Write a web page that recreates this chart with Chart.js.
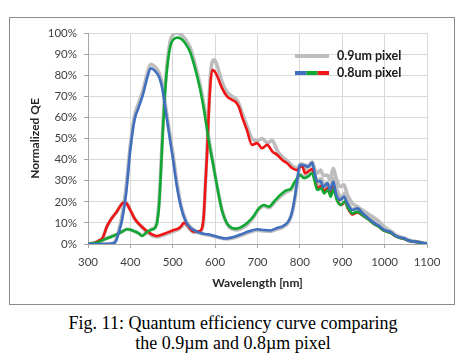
<!DOCTYPE html>
<html>
<head>
<meta charset="utf-8">
<script src="https://cdn.jsdelivr.net/npm/chart.js@4/dist/chart.umd.min.js"></script>
<style>
  html, body { margin: 0; padding: 0; background: #fff; width: 466px; height: 361px; overflow: hidden; }
  #frame { position: absolute; left: 9px; top: 17px; width: 444px; height: 286px; border: 1px solid #8c8c8c; background: #fff; }
  #c { position: absolute; left: 0; top: 0; }
  #cap { position: absolute; left: 0; top: 313px; width: 466px; text-align: center;
         font-family: "Liberation Serif", "Times New Roman", serif; font-size: 18px; line-height: 20px; color: #000; }
</style>
</head>
<body>
<div id="frame"><canvas id="c" width="444" height="286"></canvas></div>
<div id="cap">Fig. 11: Quantum efficiency curve comparing<br>the 0.9µm and 0.8µm pixel</div>
<script>
// ---- data ----
const xTicks = [300, 400, 500, 600, 700, 800, 900, 1000, 1100];
const yTicks = [0, 10, 20, 30, 40, 50, 60, 70, 80, 90, 100];
const seriesNames = ["0.9um pixel", "0.8um pixel"];

const blueWl = [300, 340, 360, 366, 372, 380, 390, 400, 410, 420, 430, 440, 448, 458, 468, 475, 482, 490, 500, 510, 520, 530, 540, 555, 570, 590, 610, 625, 645, 660, 680, 700, 715, 730, 745, 760, 772, 780, 788, 795, 800, 810, 819, 829, 835, 841, 849, 855, 865, 871, 879, 885, 895, 904, 912, 924, 936, 948, 963, 975, 985, 1000, 1015, 1025, 1035, 1046, 1055, 1065, 1078, 1090, 1100];
const blueQE08 = [0, 0, 0.3, 1.5, 5, 11, 24, 45, 59, 65, 71, 79, 83.3, 82, 79, 74, 65, 54, 41, 27, 17, 11, 8, 6, 5, 4.3, 3.2, 2.6, 3.4, 4.5, 6, 7, 6.6, 6.4, 7.5, 8.5, 10.5, 14, 22, 32, 37.5, 37.3, 36.6, 38.6, 33.5, 29.6, 29.8, 27, 28.8, 25.6, 29.6, 24, 20.9, 22.4, 19.3, 16.1, 16.9, 14.6, 12, 10, 8.8, 6.6, 5.6, 4, 3.2, 2.7, 1.8, 1.3, 1, 0.5, 0.2];
const blueQE09 = [0, 0, 0.4, 2, 6, 13, 27, 47, 61, 67, 73, 81, 85.2, 84, 81, 76, 67, 56, 43, 29, 18, 11.5, 8.3, 6, 4.8, 4, 3, 2.4, 3, 4, 5.5, 6.5, 6.2, 6, 7, 8, 10, 13.5, 21, 31, 37, 37.5, 37, 38.8, 35.5, 33.5, 35, 32.5, 32.7, 30.4, 35.9, 31.5, 27.2, 28, 23.5, 19.3, 17.7, 16, 14, 12.5, 11, 8, 6, 4.5, 3.5, 2.8, 2, 1.4, 1, 0.5, 0.2];

const greenWl = [300, 310, 325, 345, 365, 380, 392, 400, 410, 420, 428, 438, 450, 458, 463, 468, 472, 476, 480, 486, 494, 500, 506, 512, 518, 524, 530, 541, 553, 565, 575, 585, 595, 605, 616, 628, 640, 650, 660, 675, 690, 703, 715, 727, 739, 754, 770, 778, 786, 793, 800, 810, 819, 829, 835, 841, 851, 857, 866, 873, 879, 887, 896, 906, 914, 924, 936, 948, 963, 975, 985, 1000, 1015, 1025, 1035, 1046, 1055, 1065, 1078, 1090, 1100];
const greenQE08 = [0, 0.3, 1, 2.7, 4.3, 5.8, 7, 6.8, 6, 5, 3.8, 5.5, 6.8, 7.5, 10, 19, 34, 51, 66, 82, 93.5, 96.5, 97.6, 97.8, 97.5, 96.5, 95, 91, 83, 73, 62, 49, 38, 27, 16, 9.8, 7.6, 7.3, 7.9, 9.8, 13, 16.9, 18.5, 17.7, 20.1, 23.3, 25.6, 26, 28.8, 31, 32.7, 31.2, 31.9, 33.5, 29.6, 25.6, 26.4, 24, 25.6, 22.4, 25.9, 20.9, 18.5, 20.1, 16.9, 14.6, 15.3, 13.6, 11.5, 9.5, 8.3, 6.2, 5.2, 3.8, 3, 2.5, 1.7, 1.2, 0.9, 0.4, 0.2];
const greenQE09 = [0, 0.3, 1, 2.7, 4.3, 5.8, 7, 6.8, 6, 5, 4, 5.5, 7, 8, 11, 21, 36, 53, 68, 84, 96, 99, 100, 100.2, 99.5, 98.5, 97, 93, 85, 75, 64, 50, 38.5, 27, 16.5, 9.5, 7, 6.7, 7.2, 9, 12.5, 16.5, 18, 17.2, 19.5, 22.5, 25, 25.5, 28, 30.5, 33, 32, 33, 35, 32, 28, 29, 27, 28, 25, 29, 24, 21, 22.5, 19, 16.5, 16.5, 15, 13, 11, 9.5, 7, 5.5, 4, 3.2, 2.6, 1.8, 1.3, 0.9, 0.4, 0.2];

const redWl = [300, 315, 325, 335, 344, 356, 368, 378, 385, 392, 400, 411, 427, 447, 462, 482, 502, 514, 520, 526, 532, 540, 549, 561, 568, 573, 577, 581, 585, 589, 593, 598, 604, 610, 616, 628, 640, 650, 657, 664, 675, 687, 699, 711, 723, 735, 747, 758, 770, 782, 794, 800, 806, 812, 819, 829, 835, 841, 851, 857, 866, 873, 879, 889, 898, 906, 914, 924, 936, 948, 963, 975, 985, 1000, 1015, 1025, 1035, 1046, 1055, 1065, 1078, 1090, 1100];
const redQE08 = [0, 0.5, 1.5, 3, 8, 12.2, 15.3, 18.5, 19.8, 19, 16, 11.7, 8.2, 5, 3.8, 5, 6.6, 7.4, 8.5, 10.1, 9.5, 7.5, 5.8, 6, 7, 13, 28, 43, 62, 76, 82.5, 82, 80, 77, 74, 70, 68.3, 67, 64.5, 60, 54, 47, 47.8, 45.4, 47, 43.8, 42.2, 39.9, 38.3, 35.9, 35, 36.5, 36.7, 33.5, 34.3, 35.5, 31.2, 26.5, 27.5, 25, 26.5, 23.5, 27, 20.5, 18.5, 20, 16.5, 14, 15, 13.5, 11.5, 9.5, 8.3, 6.2, 5.2, 3.8, 3, 2.5, 1.7, 1.2, 0.9, 0.4, 0.2];
const redQE09 = [0, 0.5, 1.5, 3, 8, 12.2, 15.3, 18.5, 19.8, 19, 16, 11.7, 8, 4.5, 3.3, 4.5, 6, 7, 8, 9.5, 9, 7, 5.5, 5.5, 6.5, 12, 28, 45, 66, 80, 86, 87.3, 85, 81, 77, 72, 70, 68.5, 66, 62, 56, 50, 49, 50, 48, 49, 44, 41.5, 39.5, 37, 36, 37.5, 38, 35.5, 36.5, 37.5, 33, 30, 31, 28, 29, 27, 31, 25, 22, 24, 19, 16.5, 16.5, 15, 13, 11, 9.5, 7, 5.5, 4, 3.2, 2.6, 1.8, 1.3, 0.9, 0.4, 0.2];

// ---- styles ----
const C_BLUE = "#3f6fbe", C_GREEN = "#10a832", C_RED = "#f01414", C_GRAY = "#bdbdbd";
const FONT = "Lato, 'Open Sans', sans-serif";

function pts(xs, ys) { return xs.map((x, i) => ({ x: x, y: ys[i] })); }
function line(label, xs, ys, color, w) {
  return { label: label, data: pts(xs, ys), borderColor: color, backgroundColor: color,
           borderWidth: w, pointRadius: 0, fill: false, tension: 0.4,
           cubicInterpolationMode: "monotone", borderCapStyle: "round", borderJoinStyle: "round" };
}

const legendPlugin = {
  id: "qeLegend",
  afterDraw(chart) {
    const ctx = chart.ctx, a = chart.chartArea;
    const x0 = a.left + 207, x1 = x0 + 34, tx = x0 + 42;
    const y1 = a.top + 23, y2 = a.top + 40;
    ctx.save();
    ctx.lineWidth = 4; ctx.lineCap = "butt";
    ctx.strokeStyle = C_GRAY; ctx.beginPath(); ctx.moveTo(x0, y1); ctx.lineTo(x1, y1); ctx.stroke();
    const seg = (x1 - x0) / 3, cols = [C_BLUE, C_GREEN, C_RED];
    cols.forEach((c, i) => { ctx.strokeStyle = c; ctx.beginPath(); ctx.moveTo(x0 + seg * i, y2); ctx.lineTo(x0 + seg * (i + 1), y2); ctx.stroke(); });
    ctx.fillStyle = "#1a1a1a"; ctx.font = "bold 12.5px " + FONT; ctx.textBaseline = "middle"; ctx.textAlign = "left";
    ctx.fillText(seriesNames[0], tx, y1);
    ctx.fillText(seriesNames[1], tx, y2);
    ctx.restore();
  }
};

new Chart(document.getElementById("c"), {
  type: "line",
  data: {
    datasets: [
      line(seriesNames[1] + " B", blueWl, blueQE08, C_BLUE, 2.6),
      line(seriesNames[1] + " G", greenWl, greenQE08, C_GREEN, 2.6),
      line(seriesNames[1] + " R", redWl, redQE08, C_RED, 2.6),
      line(seriesNames[0] + " B", blueWl, blueQE09, C_GRAY, 3.6),
      line(seriesNames[0] + " G", greenWl, greenQE09, C_GRAY, 3.6),
      line(seriesNames[0] + " R", redWl, redQE09, C_GRAY, 3.6)
    ]
  },
  options: {
    responsive: false, animation: false, devicePixelRatio: 1,
    layout: { padding: { left: 0, right: 27, top: 15, bottom: 0 } },
    plugins: { legend: { display: false }, tooltip: { enabled: false } },
    scales: {
      x: {
        type: "linear", min: 300, max: 1100,
        afterBuildTicks: s => { s.ticks = xTicks.map(v => ({ value: v })); },
        afterFit: s => { s.height = 60; },
        grid: { color: "#d9d9d9", tickColor: "#a6a6a6", tickLength: 4, lineWidth: 1 },
        border: { color: "#a6a6a6" },
        ticks: { color: "#404040", font: { family: FONT, size: 11.5 }, padding: 7, maxRotation: 0, callback: v => String(v) },
        title: { display: true, text: "Wavelength [nm]", color: "#262626", font: { family: FONT, size: 12, weight: "bold" }, padding: { top: 4, bottom: 14 } }
      },
      y: {
        min: 0, max: 100,
        afterBuildTicks: s => { s.ticks = yTicks.map(v => ({ value: v })); },
        afterFit: s => { s.width = 78; },
        grid: { color: "#d9d9d9", tickColor: "#a6a6a6", tickLength: 4, lineWidth: 1 },
        border: { color: "#a6a6a6" },
        ticks: { color: "#404040", font: { family: FONT, size: 11.5 }, padding: 7, callback: v => v + "%" },
        title: { display: true, text: "Normalized QE", color: "#262626", font: { family: FONT, size: 12, weight: "bold" }, padding: { top: 18, bottom: 0 } }
      }
    }
  },
  plugins: [legendPlugin]
});
</script>
</body>
</html>
